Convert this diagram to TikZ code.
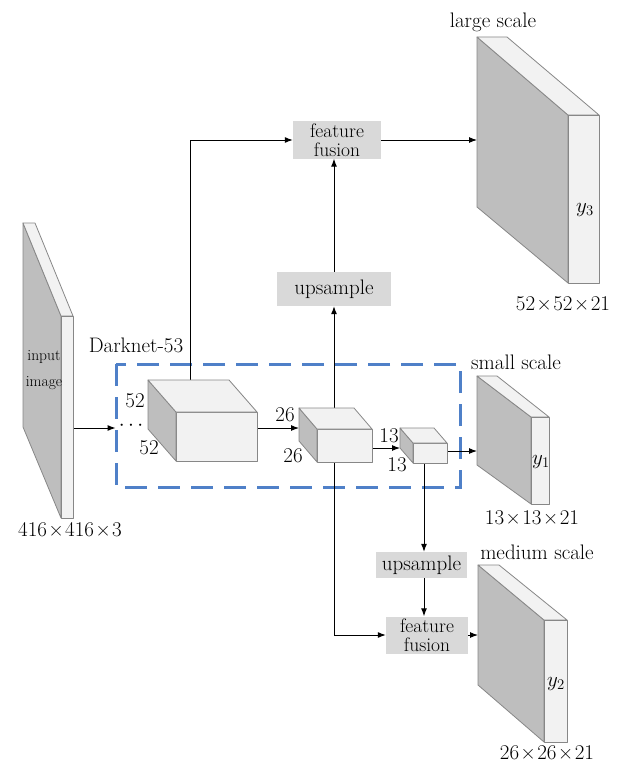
\RequirePackage{fix-cm}
\documentclass[tikz,border=0pt]{standalone}
\usepackage{fontspec}
\usetikzlibrary{arrows.meta}
\definecolor{dashblue}{RGB}{79,128,200}
\definecolor{boxgray}{RGB}{217,217,217}
\definecolor{darkface}{RGB}{190,190,190}
\definecolor{lightface}{RGB}{242,242,242}
\definecolor{edgegray}{RGB}{135,135,135}
\tikzset{
  arr/.style={draw=black, line width=1pt, -{Latex[length=8pt,width=6pt]}},
  opbox/.style={fill=boxgray, inner sep=0pt, align=center, font=\fontsize{21}{22}\selectfont},
  ffbox/.style={opbox, font=\fontsize{19.5}{19}\selectfont},
  lbl/.style={inner sep=0pt, font=\fontsize{21}{22}\selectfont},
  smalllbl/.style={inner sep=0pt, font=\fontsize{15.5}{17}\selectfont},
  darkf/.style={fill=darkface, draw=edgegray, line width=0.8pt, line join=round},
  lightf/.style={fill=lightface, draw=edgegray, line width=0.8pt, line join=round},
}
\newcommand\drawcube[6]{%
  \path[lightf] (#1,#2) rectangle (#3,#4);
  \path[darkf] (#1,#2) -- (#1+#5,#2+#6) -- (#1+#5,#4+#6) -- (#1,#4) -- cycle;
  \path[lightf] (#1,#2) -- (#1+#5,#2+#6) -- (#3+#5,#2+#6) -- (#3,#2) -- cycle;
}
\newcommand\tms{\kern1.5pt×\kern1.5pt}
\begin{document}
\begin{tikzpicture}[x=1pt,y=-1pt]
\useasboundingbox (0,0) rectangle (625,765);

% Darknet region
\draw[dashblue, line width=3pt, dash pattern=on 22pt off 11pt] (116,364) rectangle (460,487);
\node[lbl] (dk) at (136,345) {Darknet-53};

% named coordinates
\coordinate (inR) at (73,428);
\coordinate (b1top) at (190,380);
\coordinate (b1R) at (257,428);
\coordinate (b2L) at (299,428);
\coordinate (b2top) at (334,408);
\coordinate (b2R) at (372,448);
\coordinate (b2bot) at (334,462);
\coordinate (b3L) at (400,448);
\coordinate (b3R) at (447,451);
\coordinate (b3bot) at (424,463);
\coordinate (lgL) at (477,141);
\coordinate (smL) at (477,451);
\coordinate (mdL) at (478,633);

% operation boxes
\node[ffbox, minimum width=88pt, minimum height=37pt] (ff1) at (337,140) {feature\\fusion};
\node[opbox, minimum width=114pt, minimum height=34pt] (up1) at (334,289) {upsample};
\node[opbox, minimum width=91pt, minimum height=26pt] (up2) at (421.5,565) {upsample};
\node[ffbox, minimum width=82pt, minimum height=37pt] (ff2) at (427,635) {feature\\fusion};

% dots
\node[lbl, inner xsep=3pt] (dots) at (131,426) {$\cdots$};

% connectors
\draw[arr] (inR) -- (inR -| dots.west);
\draw[arr] (b1top) |- (ff1.west);
\draw[arr] (b2top) -- (up1.south);
\draw[arr] (up1.north) -- (up1.north |- ff1.south);
\draw[arr] (ff1.east) -- (ff1.east -| lgL);
\draw[arr] (b2bot) |- (ff2.west);
\draw[arr] (b3bot) -- (b3bot |- up2.north);
\draw[arr] (b3bot |- up2.south) -- (b3bot |- ff2.north);
\draw[arr] (ff2.east) -- (ff2.east -| mdL);
\draw[arr] (b1R) -- (b2L);
\draw[arr] (b2R) -- (b3L);
\draw[arr] (b3R) -- (smL);

% cubes
\drawcube{176}{412}{257}{461}{-28}{-32}
\drawcube{317}{429}{372}{462}{-18}{-21}
\drawcube{413}{443}{447}{463}{-13}{-15}

% cube labels
\node[lbl] (c52a) at (135,401) {52};
\node[lbl] (c52b) at (149,448) {52};
\node[lbl] (c26a) at (285,415) {26};
\node[lbl] (c26b) at (293,456) {26};
\node[lbl] (c13a) at (389,436) {13};
\node[lbl] (c13b) at (397,465) {13};

% input slab
\path[darkf] (23,223) -- (61,316) -- (61,518) -- (23,427) -- cycle;
\path[lightf] (23,223) -- (35,223) -- (73,316) -- (61,316) -- cycle;
\path[lightf] (61,316) -- (73,316) -- (73,518) -- (61,518) -- cycle;
\node[smalllbl] (in1) at (44,357) {input};
\node[smalllbl] (in2) at (44,383) {image};
\node[lbl] (insz) at (70,530) {416\tms416\tms3};

% large scale slab
\path[darkf] (477,37) -- (568,115) -- (568,283) -- (477,207) -- cycle;
\path[lightf] (477,37) -- (507,37) -- (599,115) -- (568,115) -- cycle;
\path[lightf] (568,115) -- (599,115) -- (599,283) -- (568,283) -- cycle;
\node[lbl] (lgT) at (493,22) {large scale};
\node[lbl] (lgY) at (585,210) {$y_3$};
\node[lbl] (lgS) at (563,304) {52\tms52\tms21};

% small scale slab
\path[darkf] (477,376) -- (531,417) -- (531,504) -- (477,465) -- cycle;
\path[lightf] (477,376) -- (497,376) -- (549,417) -- (531,417) -- cycle;
\path[lightf] (531,417) -- (549,417) -- (549,504) -- (531,504) -- cycle;
\node[lbl] (smT) at (516,362) {small scale};
\node[lbl] (smY) at (541,462) {$y_1$};
\node[lbl] (smS) at (532,518) {13\tms13\tms21};

% medium scale slab
\path[darkf] (478,565) -- (544,620) -- (544,742) -- (478,685) -- cycle;
\path[lightf] (478,565) -- (499,565) -- (567,620) -- (544,620) -- cycle;
\path[lightf] (544,620) -- (567,620) -- (567,742) -- (544,742) -- cycle;
\node[lbl] (mdT) at (537,552) {medium scale};
\node[lbl] (mdY) at (556,684) {$y_2$};
\node[lbl] (mdS) at (547,753) {26\tms26\tms21};
\end{tikzpicture}
\end{document}
